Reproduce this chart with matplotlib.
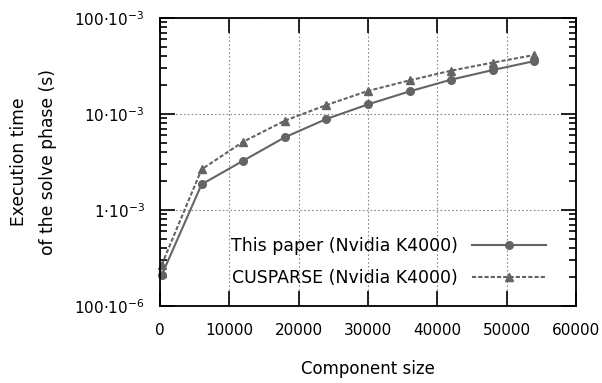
import numpy as np
import matplotlib
matplotlib.use("Agg")
import matplotlib.pyplot as plt
from matplotlib.ticker import FixedLocator, LogLocator, NullFormatter

# component sizes and solve-phase timings (seconds)
sizes = [250, 6000, 12000, 18000, 24000, 30000, 36000, 42000, 48000, 54000]
this_paper = [2.1e-4, 1.85e-3, 3.26e-3, 5.72e-3, 8.87e-3, 1.26e-2, 1.72e-2, 2.28e-2, 2.87e-2, 3.56e-2]
cusparse = [2.7e-4, 2.65e-3, 5.14e-3, 8.51e-3, 1.24e-2, 1.74e-2, 2.24e-2, 2.83e-2, 3.43e-2, 4.12e-2]

ytick_vals = [1e-4, 1e-3, 1e-2, 1e-1]
ytick_labels = ["100·10$^{-6}$", "1·10$^{-3}$", "10·10$^{-3}$", "100·10$^{-3}$"]
xtick_vals = [0, 10000, 20000, 30000, 40000, 50000, 60000]

plt.rcParams["font.family"] = "DejaVu Sans"
plt.rcParams["font.size"] = 11

col = "#646464"
fig = plt.figure(figsize=(6.02, 3.83), dpi=100)
ax = fig.add_axes([160 / 602, 1 - 306 / 383, 416 / 602, 288 / 383])

ax.plot(sizes, this_paper, "-", color=col, lw=1.5, marker="o", ms=5.5,
        clip_on=False, zorder=3, label="This paper (Nvidia K4000)")
ax.plot(sizes, cusparse, "--", color=col, lw=1.5, marker="^", ms=6,
        dashes=(2, 1), clip_on=False, zorder=3, label="CUSPARSE (Nvidia K4000)")

ax.set_yscale("log")
ax.set_ylim(1e-4, 1e-1)
ax.set_xlim(0, 60000)
ax.set_xticks(xtick_vals)
ax.set_xticklabels([str(v) for v in xtick_vals])
ax.yaxis.set_major_locator(FixedLocator(ytick_vals))
ax.set_yticklabels(ytick_labels)
ax.yaxis.set_minor_locator(LogLocator(base=10, subs=np.arange(2, 10)))
ax.yaxis.set_minor_formatter(NullFormatter())

ax.tick_params(which="both", direction="in", top=True, right=True, color="black", width=1.2)
ax.tick_params(which="major", length=11, pad=12)
ax.tick_params(axis="y", which="major", pad=11)
ax.tick_params(which="minor", length=5)
for s in ax.spines.values():
    s.set_linewidth(1.3)
    s.set_zorder(4)

ax.grid(True, which="major", linestyle=(0, (1.5, 2)), color="#888888", lw=0.8)

ax.set_xlabel("Component size", fontsize=12, labelpad=16)
ax.set_ylabel("Execution time\nof the solve phase (s)", fontsize=12.3,
              linespacing=1.85, labelpad=12)

ax.legend(loc="lower right", bbox_to_anchor=(0.966, 0.011), frameon=False, markerfirst=False,
          fontsize=12.5, handlelength=4.25, labelspacing=0.8, handletextpad=0.85)

fig.savefig("out.png", dpi=100)
